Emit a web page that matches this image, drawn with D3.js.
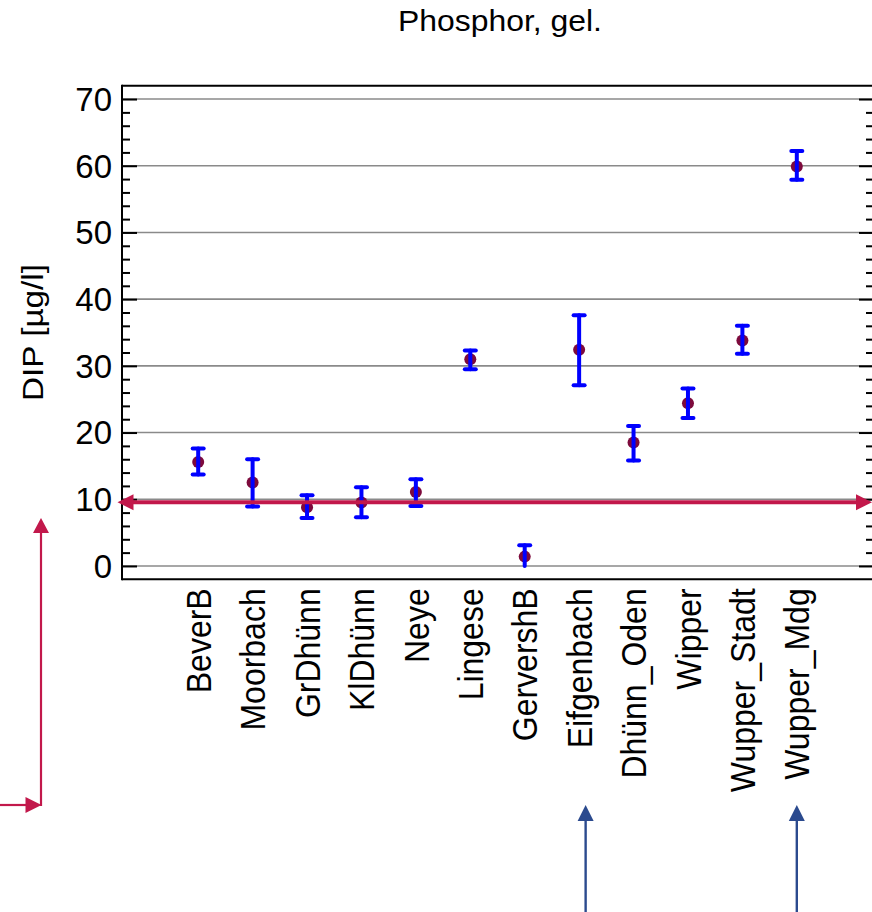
<!DOCTYPE html>
<html>
<head>
<meta charset="utf-8">
<script src="https://cdn.jsdelivr.net/npm/d3@7"></script>
<style>
  body { margin: 0; background: #fff; }
  svg { display: block; font-family: "Liberation Sans", Arial, sans-serif; }
</style>
</head>
<body>
<svg id="chart" width="872" height="912"></svg>
<script>
// Stations along the Wupper catchment and their dissolved inorganic phosphorus (DIP)
const categories = ["BeverB", "Moorbach", "GrDhünn", "KlDhünn", "Neye", "Lingese",
  "GervershB", "Eifgenbach", "Dhünn_Oden", "Wipper", "Wupper_Stadt", "Wupper_Mdg"];
const means = [15.6, 12.5, 8.8, 9.5, 11.1, 31.0, 1.4, 32.4, 18.5, 24.4, 33.8, 59.9];
const lower = [13.7, 8.9, 7.2, 7.3, 9.0, 29.5, 0.0, 27.1, 15.8, 22.2, 31.8, 57.9];
const upper = [17.6, 16.0, 10.6, 11.8, 13.0, 32.3, 3.1, 37.6, 21.0, 26.6, 36.0, 62.2];
const yTicks = [0, 10, 20, 30, 40, 50, 60, 70];
const yDomain = [-2, 72];
const referenceLevel = 9.55;
const markedStations = ["Eifgenbach", "Wupper_Mdg"];

const titleText = "Phosphor, gel.";
const yLabelText = "DIP [µg/l]";

const svg = d3.select("#chart");
const W = 872, H = 912;
const plot = { left: 122, right: 873, top: 85.7, bottom: 579.3 };

const x = d3.scalePoint().domain(categories).range([plot.left, plot.right]).padding(1.4);
const y = d3.scaleLinear().domain(yDomain).range([plot.bottom, plot.top]);

const rows = categories.map((c, i) => ({ c, m: means[i], lo: lower[i], hi: upper[i] }));

// Title
svg.append("text")
  .attr("transform", "translate(500,31) scale(1.1,1)")
  .attr("text-anchor", "middle")
  .attr("font-size", 29)
  .text(titleText);

// Horizontal grid at major ticks
svg.append("g").selectAll("line").data(yTicks).join("line")
  .attr("x1", plot.left).attr("x2", plot.right)
  .attr("y1", d => y(d)).attr("y2", d => y(d))
  .attr("stroke", "#8a8a8a").attr("stroke-width", 1.6);

// Frame: left axis, top and bottom lines
const frame = svg.append("g").attr("stroke", "#000").attr("stroke-width", 2).attr("fill", "none");
frame.append("line").attr("x1", plot.left).attr("x2", plot.left).attr("y1", plot.top - 1).attr("y2", plot.bottom + 1);
frame.append("line").attr("x1", plot.left).attr("x2", plot.right).attr("y1", plot.top).attr("y2", plot.top);
frame.append("line").attr("x1", plot.left).attr("x2", plot.right).attr("y1", plot.bottom).attr("y2", plot.bottom);
frame.append("line").attr("x1", plot.right).attr("x2", plot.right).attr("y1", plot.top).attr("y2", plot.bottom);

// Left axis with inward major and minor ticks
const minorTicks = d3.range(yDomain[0] + 2, yDomain[1], 2).filter(v => v % 10 !== 0);
const gl = svg.append("g").attr("transform", `translate(${plot.left},0)`)
  .call(d3.axisRight(y).tickValues(yTicks).tickSize(15).tickFormat(""));
gl.select(".domain").remove();
gl.selectAll(".tick line").attr("stroke", "#000").attr("stroke-width", 2);
const gm = svg.append("g").attr("transform", `translate(${plot.left},0)`)
  .call(d3.axisRight(y).tickValues(minorTicks).tickSize(8).tickFormat(""));
gm.select(".domain").remove();
gm.selectAll(".tick line").attr("stroke", "#000").attr("stroke-width", 2);

// Right axis mirrors the ticks
const gr = svg.append("g").attr("transform", `translate(${plot.right},0)`)
  .call(d3.axisLeft(y).tickValues(yTicks).tickSize(14).tickFormat(""));
gr.select(".domain").remove();
gr.selectAll(".tick line").attr("stroke", "#000").attr("stroke-width", 2);
const grm = svg.append("g").attr("transform", `translate(${plot.right},0)`)
  .call(d3.axisLeft(y).tickValues(minorTicks).tickSize(7).tickFormat(""));
grm.select(".domain").remove();
grm.selectAll(".tick line").attr("stroke", "#000").attr("stroke-width", 2);

// Tick labels
svg.append("g").selectAll("text").data(yTicks).join("text")
  .attr("x", plot.left - 10).attr("y", d => y(d)).attr("dy", "0.36em")
  .attr("text-anchor", "end").attr("font-size", 33)
  .text(d => d);

// Y axis title
svg.append("text")
  .attr("transform", `translate(43,${(plot.top + plot.bottom) / 2}) rotate(-90) scale(1.11,1)`)
  .attr("text-anchor", "middle").attr("font-size", 30)
  .text(yLabelText);

// Category labels, rotated
svg.append("g").selectAll("text").data(categories).join("text")
  .attr("transform", d => `translate(${x(d)},${plot.bottom + 9}) rotate(-90) scale(1,1.1)`)
  .attr("dy", "0.36em")
  .attr("text-anchor", "end").attr("font-size", 32)
  .text(d => d);

// Arrow helper: shaft plus filled triangular head(s)
function arrow(g, x1, y1, x2, y2, opt) {
  const ang = Math.atan2(y2 - y1, x2 - x1);
  const L = opt.head, Hw = opt.headW / 2;
  const ux = Math.cos(ang), uy = Math.sin(ang);
  const sx = opt.both ? x1 + ux * (L - 2) : x1, sy = opt.both ? y1 + uy * (L - 2) : y1;
  g.append("line")
    .attr("x1", sx).attr("y1", sy)
    .attr("x2", x2 - ux * (L - 2)).attr("y2", y2 - uy * (L - 2))
    .attr("stroke", opt.color).attr("stroke-width", opt.width);
  const head = (tx, ty, dx, dy) => {
    const bx = tx - dx * L, by = ty - dy * L;
    return `M${tx},${ty}L${bx - dy * Hw},${by + dx * Hw}L${bx + dy * Hw},${by - dx * Hw}Z`;
  };
  g.append("path").attr("d", head(x2, y2, ux, uy)).attr("fill", opt.color);
  if (opt.both) g.append("path").attr("d", head(x1, y1, -ux, -uy)).attr("fill", opt.color);
}

// Points first, error bars drawn over them
const marks = svg.append("g");
marks.selectAll("circle").data(rows).join("circle")
  .attr("cx", d => x(d.c)).attr("cy", d => y(d.m)).attr("r", 6)
  .attr("fill", "#7d0a3c");

const capW = 5.5;
const eb = marks.append("g").attr("stroke", "#0000ff").attr("stroke-width", 4)
  .attr("stroke-linecap", "round").attr("fill", "none");
eb.selectAll("line.v").data(rows).join("line").attr("class", "v")
  .attr("x1", d => x(d.c)).attr("x2", d => x(d.c))
  .attr("y1", d => y(d.lo)).attr("y2", d => y(d.hi));
eb.selectAll("line.top").data(rows).join("line").attr("class", "top")
  .attr("x1", d => x(d.c) - capW).attr("x2", d => x(d.c) + capW)
  .attr("y1", d => y(d.hi)).attr("y2", d => y(d.hi));
// lower caps are left off where the interval reaches zero
eb.selectAll("line.bot").data(rows.filter(d => d.lo > 0)).join("line").attr("class", "bot")
  .attr("x1", d => x(d.c) - capW).attr("x2", d => x(d.c) + capW)
  .attr("y1", d => y(d.lo)).attr("y2", d => y(d.lo));

// Reference level across the whole plot, arrowed both ways
const ann = svg.append("g");
arrow(ann, plot.left - 4.5, y(referenceLevel), W, y(referenceLevel),
  { color: "#c2184b", width: 4, head: 16, headW: 16, both: true });

// Bent pointer in the lower left
arrow(ann, 0, 805, 41.5, 805, { color: "#c2184b", width: 2.2, head: 16, headW: 16 });
arrow(ann, 41, 806, 41, 518, { color: "#c2184b", width: 2.2, head: 15, headW: 16 });

// Pointers to the marked stations from below
const offsets = { Eifgenbach: 6.5, Wupper_Mdg: 0 };
markedStations.forEach(s => {
  const ax = x(s) + offsets[s];
  arrow(ann, ax, H, ax, 805, { color: "#2b4a8e", width: 2.4, head: 16, headW: 16 });
});
</script>
</body>
</html>
